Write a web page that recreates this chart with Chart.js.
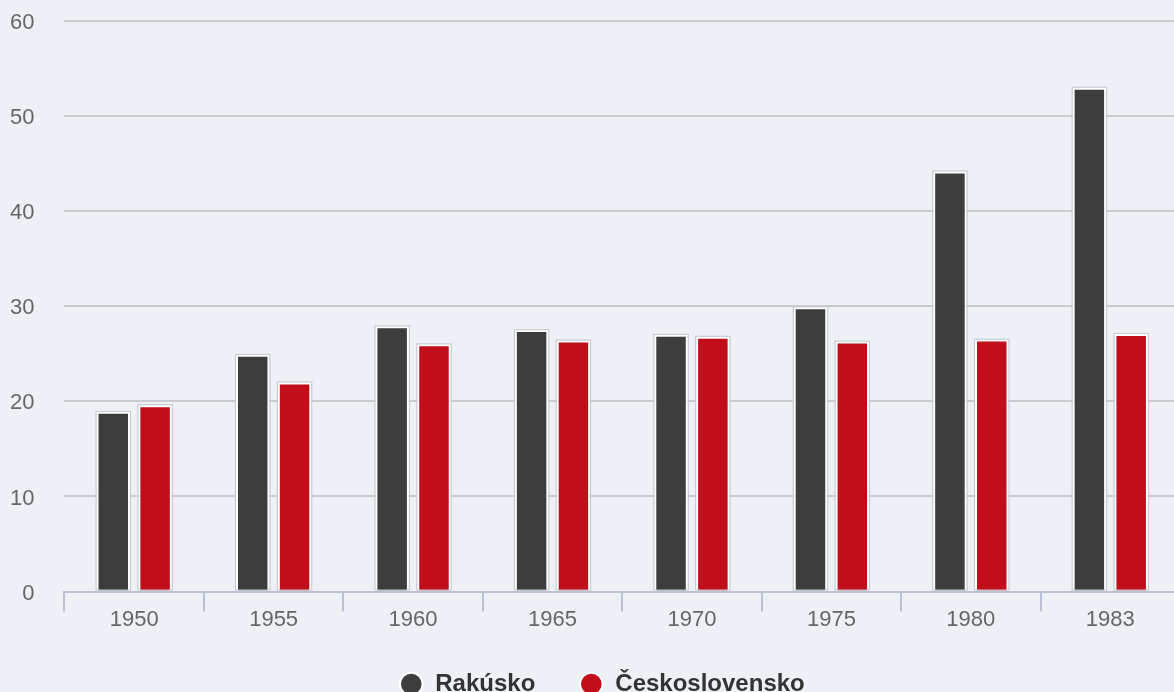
<!DOCTYPE html>
<html>
<head>
<meta charset="utf-8">
<script src="https://cdn.jsdelivr.net/npm/chart.js@4"></script>
<style>
  body { margin: 0; background: #edf1f5; overflow: hidden; }
  #wrap { width: 1208px; height: 728px; position: absolute; left: -28px; top: -22px; }
</style>
</head>
<body>
<div id="wrap"><canvas id="chart"></canvas></div>
<script>
const years = ["1950", "1955", "1960", "1965", "1970", "1975", "1980", "1983"];
const rakusko = [18.9, 24.9, 27.9, 27.5, 27.0, 29.9, 44.2, 53.0];
const ceskoslovensko = [19.6, 22.0, 26.0, 26.4, 26.8, 26.3, 26.5, 27.1];
const yTicks = [0, 10, 20, 30, 40, 50, 60];

const ctx = document.getElementById("chart").getContext("2d");

// thin grey outline around the white bar border
const barOutline = {
  id: "barOutline",
  afterDatasetsDraw(chart) {
    const c = chart.ctx;
    c.save();
    c.strokeStyle = "#c4c7cc";
    c.lineWidth = 1;
    chart.data.datasets.forEach((ds, i) => {
      chart.getDatasetMeta(i).data.forEach((bar) => {
        const { x, y, base, width } = bar.getProps(["x", "y", "base", "width"], true);
        c.strokeRect(x - width / 2 - 0.5, y - 0.5, width + 1, base - y);
      });
    });
    c.restore();
  },
};

// legend sits a little right of the canvas centre in the original
const legendShift = {
  id: "legendShift",
  afterLayout(chart) {
    chart.legend.left += 22;
    chart.legend.right += 22;
  },
};

new Chart(ctx, {
  type: "bar",
  data: {
    labels: years,
    datasets: [
      {
        label: "Rakúsko",
        data: rakusko,
        backgroundColor: "#3d3d3d",
        borderColor: "#ffffff",
        borderWidth: 2,
      },
      {
        label: "Československo",
        data: ceskoslovensko,
        backgroundColor: "#c20e1a",
        borderColor: "#ffffff",
        borderWidth: 2,
      },
    ],
  },
  options: {
    responsive: true,
    maintainAspectRatio: false,
    animation: false,
    categoryPercentage: 0.6,
    barPercentage: 0.8,
    layout: { padding: { left: 8, right: 0, top: 10, bottom: 0 } },
    scales: {
      x: {
        offset: true,
        grid: {
          offset: true,
          drawOnChartArea: false,
          tickLength: 20,
          color: "#b9c1d3",
          lineWidth: 2,
        },
        border: { color: "#b9c1d3", width: 2 },
        ticks: {
          color: "#666",
          font: { family: "Liberation Sans", size: 22, lineHeight: 0.75 },
          padding: 0,
        },
      },
      y: {
        min: 0,
        max: 60,
        afterBuildTicks: (axis) => {
          axis.ticks = yTicks.map((v) => ({ value: v }));
        },
        grid: { color: "#c9cbcf", lineWidth: 2, drawTicks: false },
        border: { display: false },
        ticks: {
          color: "#666",
          font: { family: "Liberation Sans", size: 22 },
          padding: 30,
          labelOffset: 2,
        },
      },
    },
    plugins: {
      legend: {
        position: "bottom",
        labels: {
          usePointStyle: true,
          pointStyle: "circle",
          boxWidth: 24,
          boxHeight: 16,
          padding: 44,
          color: "#333",
          font: { family: "Liberation Sans", size: 24, weight: "bold" },
        },
      },
      tooltip: { enabled: false },
    },
  },
  plugins: [barOutline, legendShift],
});
</script>
</body>
</html>
